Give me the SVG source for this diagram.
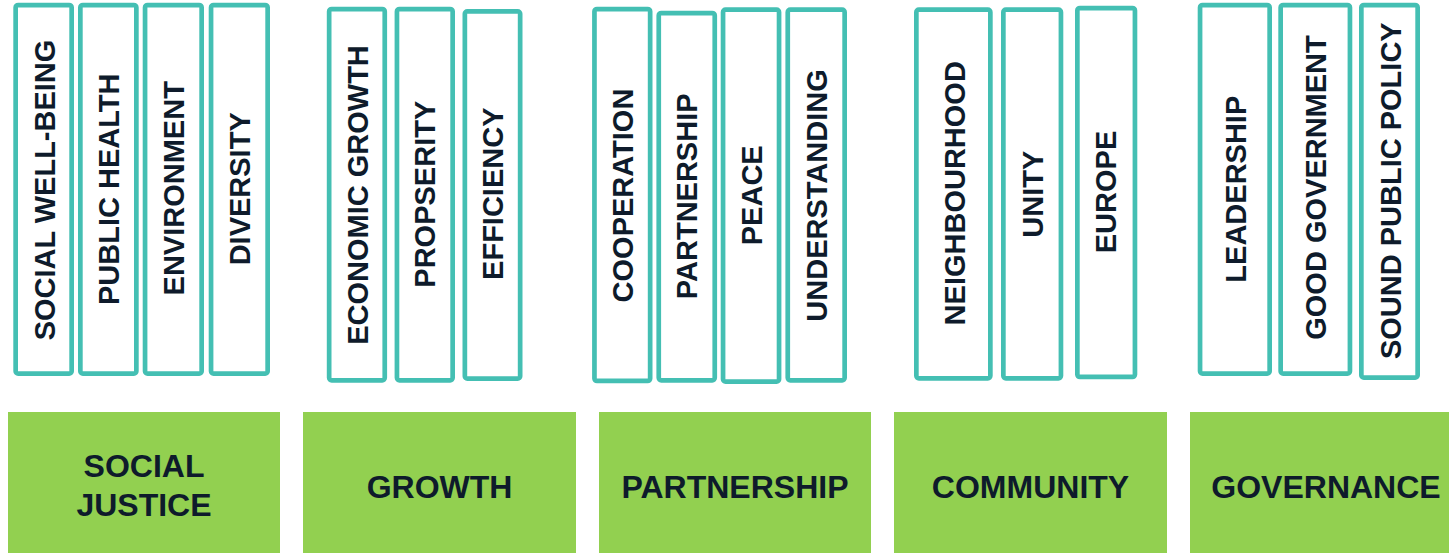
<svg xmlns="http://www.w3.org/2000/svg" width="1449" height="553" viewBox="0 0 1449 553">
  <style>
    .value rect { fill: #ffffff; stroke: #44BFB3; stroke-width: 4.7; }
    .value text { font-family: "Liberation Sans", Arial, sans-serif; font-weight: bold; font-size: 29px; fill: #0E1B2B; text-anchor: middle; }
    .pillar rect { fill: #92D050; }
    .pillar text { font-family: "Liberation Sans", Arial, sans-serif; font-weight: bold; font-size: 32px; fill: #0E1B2B; text-anchor: middle; }
  </style>
  <rect width="1449" height="553" fill="#ffffff"/>

  <!-- Social justice values -->
  <g id="social-well-being" class="value"><rect x="15.65" y="5.05" width="56" height="368.6" rx="2.5"/><text transform="translate(54.6,190) rotate(-90)">SOCIAL WELL-BEING</text></g>
  <g id="public-health" class="value"><rect x="80.35" y="5.05" width="56" height="368.6" rx="2.5"/><text transform="translate(119.1,189.3) rotate(-90)">PUBLIC HEALTH</text></g>
  <g id="environment" class="value"><rect x="145.05" y="5.05" width="56.6" height="368.6" rx="2.5"/><text transform="translate(184.2,188.3) rotate(-90)">ENVIRONMENT</text></g>
  <g id="diversity" class="value"><rect x="211.05" y="5.05" width="56.6" height="368.6" rx="2.5"/><text transform="translate(250.1,188.8) rotate(-90)">DIVERSITY</text></g>

  <!-- Growth values -->
  <g id="economic-growth" class="value"><rect x="329.15" y="9.05" width="55.6" height="371.3" rx="2.5"/><text transform="translate(367.7,195) rotate(-90)">ECONOMIC GROWTH</text></g>
  <g id="propserity" class="value"><rect x="396.95" y="9.05" width="55.7" height="371.3" rx="2.5"/><text transform="translate(435.2,194.2) rotate(-90)">PROPSERITY</text></g>
  <g id="efficiency" class="value"><rect x="464.85" y="11.35" width="55.3" height="367.3" rx="2.5"/><text transform="translate(502.7,193.7) rotate(-90)">EFFICIENCY</text></g>

  <!-- Partnership values -->
  <g id="cooperation" class="value"><rect x="594.45" y="9.05" width="55.7" height="371.9" rx="2.5"/><text transform="translate(632.5,195.5) rotate(-90)">COOPERATION</text></g>
  <g id="partnership-value" class="value"><rect x="658.75" y="13.05" width="56" height="367.3" rx="2.5"/><text transform="translate(697.2,196.3) rotate(-90)">PARTNERSHIP</text></g>
  <g id="peace" class="value"><rect x="723.05" y="9.65" width="56" height="372" rx="2.5"/><text transform="translate(761.6,195.3) rotate(-90)">PEACE</text></g>
  <g id="understanding" class="value"><rect x="787.75" y="9.65" width="56.9" height="370.7" rx="2.5"/><text transform="translate(826.8,195.5) rotate(-90)">UNDERSTANDING</text></g>

  <!-- Community values -->
  <g id="neighbourhood" class="value"><rect x="916.35" y="9.65" width="74" height="368.7" rx="2.5"/><text transform="translate(964.7,193.3) rotate(-90)">NEIGHBOURHOOD</text></g>
  <g id="unity" class="value"><rect x="1003.35" y="9.65" width="57.6" height="368.7" rx="2.5"/><text transform="translate(1042.6,194.2) rotate(-90)">UNITY</text></g>
  <g id="europe" class="value"><rect x="1077.35" y="8.05" width="57.6" height="368.9" rx="2.5"/><text transform="translate(1116.4,192) rotate(-90)">EUROPE</text></g>

  <!-- Governance values -->
  <g id="leadership" class="value"><rect x="1200.05" y="5.05" width="69.6" height="368.6" rx="2.5"/><text transform="translate(1246,189.2) rotate(-90)">LEADERSHIP</text></g>
  <g id="good-government" class="value"><rect x="1280.65" y="5.05" width="69.3" height="368.6" rx="2.5"/><text transform="translate(1326.2,187.5) rotate(-90)">GOOD GOVERNMENT</text></g>
  <g id="sound-public-policy" class="value"><rect x="1361.35" y="5.05" width="56.3" height="372.6" rx="2.5"/><text transform="translate(1400.6,190.7) rotate(-90)">SOUND PUBLIC POLICY</text></g>

  <!-- Pillars -->
  <g id="social-justice" class="pillar"><rect x="8" y="412" width="272" height="141"/><text x="144" y="477">SOCIAL</text><text x="144" y="516">JUSTICE</text></g>
  <g id="growth" class="pillar"><rect x="303" y="412" width="273" height="141"/><text x="439.5" y="497.5">GROWTH</text></g>
  <g id="partnership" class="pillar"><rect x="599" y="412" width="272" height="141"/><text x="735" y="497.5">PARTNERSHIP</text></g>
  <g id="community" class="pillar"><rect x="894" y="412" width="273" height="141"/><text x="1030.5" y="497.5">COMMUNITY</text></g>
  <g id="governance" class="pillar"><rect x="1190" y="412" width="272" height="141"/><text x="1326" y="497.5">GOVERNANCE</text></g>
</svg>
